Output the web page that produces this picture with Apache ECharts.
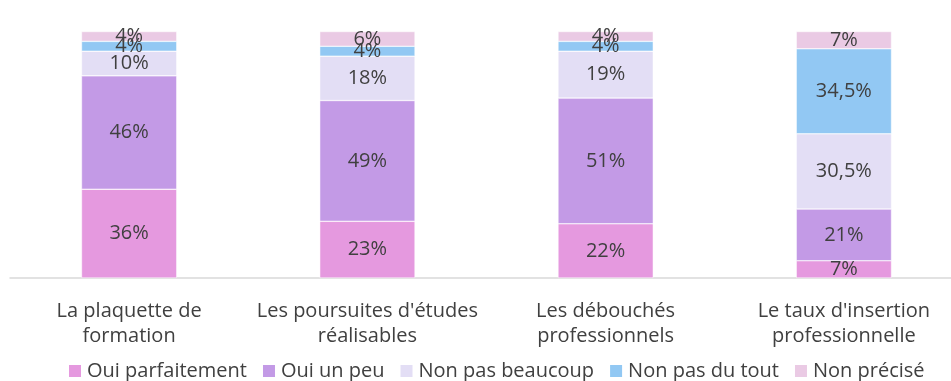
<!DOCTYPE html>
<html>
<head>
<meta charset="utf-8">
<script src="https://cdn.jsdelivr.net/npm/echarts@6/dist/echarts.min.js"></script>
<style>
  html, body { margin: 0; padding: 0; background: #fff; }
  #chart { width: 951px; height: 381px; }
</style>
</head>
<body>
<div id="chart"></div>
<script>
// Categories (axis labels, wrapped on two lines)
const categories = [
  'La plaquette de\nformation',
  "Les poursuites d'études\nréalisables",
  'Les débouchés\nprofessionnels',
  "Le taux d'insertion\nprofessionnelle"
];

// Share of answers per category, in percent
const ouiParfaitement = [36, 23, 22, 7];
const ouiUnPeu        = [46, 49, 51, 21];
const nonPasBeaucoup  = [10, 18, 19, 30.5];
const nonPasDuTout    = [4, 4, 4, 34.5];
const nonPrecise      = [4, 6, 4, 7];

const seriesNames = ['Oui parfaitement', 'Oui un peu', 'Non pas beaucoup', 'Non pas du tout', 'Non précisé'];
const seriesValues = [ouiParfaitement, ouiUnPeu, nonPasBeaucoup, nonPasDuTout, nonPrecise];
const seriesColors = ['#E599DF', '#C39AE6', '#E3DEF5', '#92C8F3', '#EACAE4'];

const FONT = 'Open Sans';
const TEXT = '#404040';
const SIZE = 20;

const fmt = v => String(v).replace('.', ',') + '%';

const chart = echarts.init(document.getElementById('chart'));
chart.setOption({
  animation: false,
  textStyle: { fontFamily: FONT },
  grid: {
    left: 10, width: 953, top: 31.5, height: 246.5,
    containLabel: false, outerBoundsMode: 'none'
  },
  legend: {
    top: 361,
    left: 67,
    padding: 0,
    itemWidth: 14,
    itemHeight: 14,
    itemGap: 14,
    icon: 'rect',
    textStyle: { fontFamily: FONT, fontSize: SIZE, color: TEXT },
    data: seriesNames
  },
  xAxis: {
    type: 'category',
    data: categories,
    axisLine: { lineStyle: { color: '#D9D9D9', width: 1.5 } },
    axisTick: { show: false },
    axisLabel: {
      color: TEXT, fontFamily: FONT, fontSize: SIZE, lineHeight: 25,
      margin: 21, interval: 0
    }
  },
  yAxis: {
    type: 'value',
    min: 0, max: 100,
    show: false
  },
  series: seriesNames.map((name, i) => ({
    name,
    type: 'bar',
    stack: 'total',
    barWidth: '40%',
    data: seriesValues[i],
    itemStyle: { color: seriesColors[i], borderColor: '#ffffff', borderWidth: 0.5 },
    label: {
      show: true,
      position: 'inside',
      color: TEXT,
      fontFamily: FONT,
      fontSize: SIZE,
      formatter: p => fmt(p.value)
    }
  }))
});
</script>
</body>
</html>
